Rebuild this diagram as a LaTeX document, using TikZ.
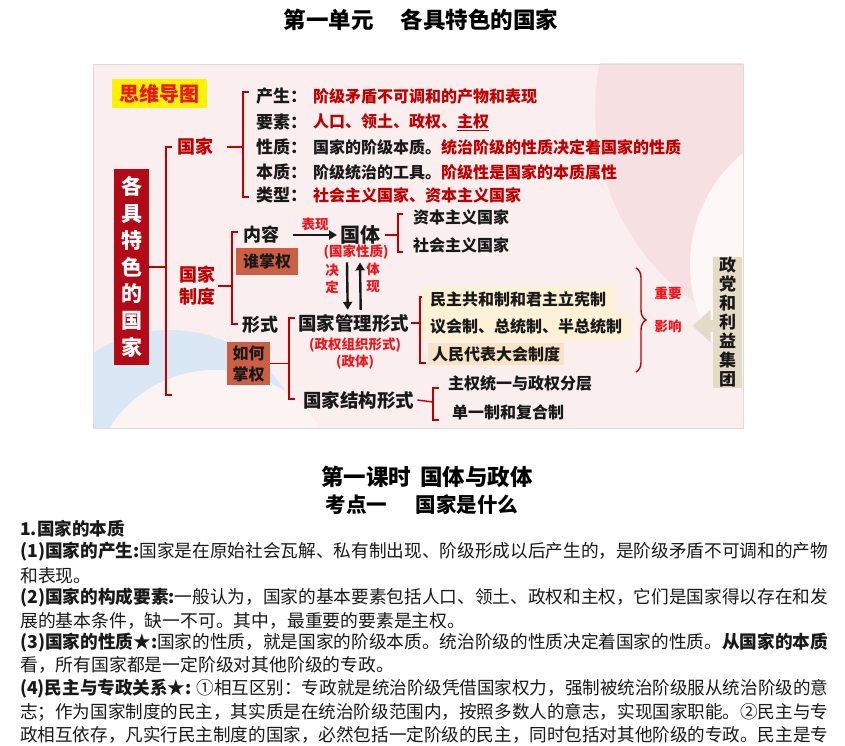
\documentclass[tikz,border=0pt]{standalone}
\usepackage{fontspec}
\usepackage{graphicx}
\setmainfont{Noto Sans CJK SC}
\usetikzlibrary{arrows.meta,positioning,calc,decorations.pathreplacing}
\definecolor{mmred}{RGB}{192,0,0}
\definecolor{hotred}{RGB}{236,22,30}
\definecolor{boxred}{RGB}{178,10,22}
\definecolor{rust}{RGB}{204,94,68}
\definecolor{cream}{RGB}{253,242,214}
\definecolor{creamdk}{RGB}{247,228,196}
\definecolor{sand}{RGB}{228,219,198}
\definecolor{mmbg}{RGB}{251,238,238}
\definecolor{mmpink}{RGB}{247,224,225}
\definecolor{mmblue}{RGB}{218,232,245}
\definecolor{ink}{RGB}{25,25,25}
\tikzset{
	mmlab/.style={text=ink,font=\bfseries\fontsize{17}{20}\selectfont,inner sep=0pt,anchor=west},
	mmtxt/.style={text=ink,font=\bfseries\fontsize{16}{19}\selectfont,inner sep=0pt,anchor=west},
	mmhead/.style={text=ink,font=\bfseries\fontsize{18.5}{22}\selectfont,inner sep=0pt,anchor=west},
	hotlab/.style={text=hotred,font=\bfseries\fontsize{13.5}{17}\selectfont,inner sep=0pt,align=center},
	brk/.style={draw=mmred,line width=1.4pt},
	blackarrow/.style={-{Triangle[length=8pt,width=9pt]},draw=ink,line width=2.4pt},
	rustbox/.style={fill=rust,text=ink,inner sep=0pt,font=\bfseries\fontsize{16}{21}\selectfont,align=center},
	hilite/.style={mmtxt,inner xsep=8pt,minimum height=25pt},
	bodyline/.style={text=ink,font=\fontsize{17.8}{20}\selectfont,inner sep=0pt,anchor=west}
}
\newcommand{\fitline}[1]{\resizebox{808pt}{\height}{#1}}

\begin{document}
\begin{tikzpicture}[x=1pt,y=-1pt]
	\useasboundingbox (0,0) rectangle (845,746);
	\fill[white] (0,0) rectangle (845,746);
	% titles
	\node[font=\bfseries\fontsize{22.5}{26}\selectfont] (unit) at (421,20) {第一单元\hspace{1.2em}各具特色的国家};
	% mind map background
	\fill[mmbg] (93,64) rectangle (743,428);
	\begin{scope}
		\clip (93,64) rectangle (743,428);
		\fill[mmpink] (830,110) circle (235);
		\fill[mmbg!50!white] (835,265) circle (145);
		\fill[mmblue] (170,470) circle (140);
		\fill[mmbg!70!white] (215,495) circle (125);
	\end{scope}
	\draw[black!14,line width=0.8pt] (93,64) rectangle (743,428);
	% map heading and topic
	\node[fill=yellow,text=hotred,inner sep=0pt,minimum width=95pt,minimum height=29pt,
		font=\bfseries\fontsize{20}{22}\selectfont] (siwei) at (159.5,93.5) {思维导图};
	\node[fill=boxred,text=white,inner sep=0pt,minimum width=35pt,minimum height=196pt,align=center,
		font=\bfseries\fontsize{21}{26.7}\selectfont] (topic) at (131.5,267) {各\\具\\特\\色\\的\\国\\家};
	\coordinate (mainbar) at (166,147);
	\draw[brk] (172,147) -- (166,147) -- (166,395) -- (172,395);
	\draw[brk] (topic.east) -- (topic.east -| mainbar);
	% branch: state
	\node[text=mmred,font=\bfseries\fontsize{18}{22}\selectfont,inner sep=0pt,anchor=west] (guojia) at (177,147) {国家};
	\draw[brk] (guojia.east) ++(14,0) -- (243,147);
	\draw[brk] (249,92) -- (243,92) -- (243,197) -- (249,197);
	\node[mmlab] (chansheng) at (256,96) {产生：};
	\node[mmtxt,text=mmred] (chansheng-t) at (313,96) {阶级矛盾不可调和的产物和表现};
	\node[mmlab] (yaosu) at (256,122) {要素：};
	\node[mmtxt,text=mmred] (yaosu-t) at (313,122) {人口、领土、政权、\underline{主权}};
	\node[mmlab] (xingzhi) at (256,147) {性质：};
	\node[mmtxt] (xingzhi-t) at (313,147) {国家的阶级本质。\textcolor{mmred}{统治阶级的性质决定着国家的性质}};
	\node[mmlab] (benzhi) at (256,172) {本质：};
	\node[mmtxt] (benzhi-t) at (313,172) {阶级统治的工具。\textcolor{mmred}{阶级性是国家的本质属性}};
	\node[mmlab] (leixing) at (256,195) {类型：};
	\node[mmtxt,text=mmred] (leixing-t) at (313,195) {社会主义国家、资本主义国家};
	% branch: state system
	\node[text=mmred,font=\bfseries\fontsize{18}{22}\selectfont,inner sep=0pt,align=center] (zhidu) at (197,286) {国家\\制度};
	\draw[brk] ([xshift=3pt]zhidu.east) -- (232,286);
	\draw[brk] (238,232) -- (232,232) -- (232,324) -- (238,324);
	\node[mmhead,font=\bfseries\fontsize{18}{22}\selectfont] (neirong) at (243,235) {内容};
	\node[rustbox,minimum width=62pt,minimum height=27pt] (shei) at (267,261.5) {谁掌权};
	\node[mmhead,font=\bfseries\fontsize{20}{24}\selectfont] (guoti) at (340,235) {国体};
	\draw[blackarrow] ([xshift=14pt]neirong.east) -- node[above=3pt,hotlab] (biaoxian) {表现} ([xshift=-3pt]guoti.west);
	\node[hotlab] (xingzhi-n) at (356,252) {(国家性质)};
	\draw[brk] ([xshift=5pt]guoti.east) -- (398,235);
	\draw[brk] (403,214) -- (398,214) -- (398,252) -- (403,252);
	\node[mmtxt] (ziben) at (413,217) {资本主义国家};
	\node[mmtxt] (shehui) at (413,245) {社会主义国家};
	\node[mmhead,font=\bfseries\fontsize{18}{22}\selectfont] (xingshi) at (242,325) {形式};
	\node[rustbox,minimum width=43pt,minimum height=43pt] (ruhe) at (248.5,363.5) {如何\\掌权};
	\draw[brk] (ruhe.east) -- (289,363.5);
	\draw[brk] (295,318) -- (289,318) -- (289,399) -- (295,399);
	\node[mmhead] (guanli) at (298,323) {国家管理形式};
	\node[hotlab] (zuzhi) at (355,345) {(政权组织形式)};
	\node[hotlab] (zhengti) at (355,362) {(政体)};
	\draw[blackarrow] ([xshift=-9pt,yshift=-3pt]xingzhi-n.south) -- ([xshift=-6pt,yshift=4pt]guanli.north);
	\draw[blackarrow] ([xshift=7pt,yshift=4pt]guanli.north) -- ([xshift=4pt,yshift=-3pt]xingzhi-n.south);
	\node[hotlab] (jueding) at (332,279) {决\\定};
	\node[hotlab] (tixian) at (373,278) {体\\现};
	\draw[brk] ([xshift=2pt]guanli.east) -- (420,323);
	\draw[brk] (426,297) -- (420,297) -- (420,363) -- (426,363);
	\node[hilite,fill=cream,minimum height=26pt] (gonghe) at (422,299.5) {民主共和制和君主立宪制};
	\node[hilite,fill=cream,minimum height=27pt] (yihui) at (422,326.5) {议会制、总统制、半总统制};
	\node[hilite,fill=creamdk,minimum height=22pt,inner xsep=4pt] (renda) at (428,354) {人民代表大会制度};
	\node[mmhead] (jiegou) at (303,400) {国家结构形式};
	\draw[brk] ([xshift=3pt]jiegou.east) -- (433,402);
	\draw[brk] (439,388) -- (433,388) -- (433,420) -- (439,420);
	\node[mmtxt] (fenceng) at (448,383) {主权统一与政权分层};
	\node[mmtxt] (fuhe) at (452,412) {单一制和复合制};
	% influence of parties
	\draw[brk,decorate,decoration={brace,amplitude=10pt}] (636,268) -- (636,372);
	\node[hotlab] (zhongyao) at (668,293) {重要};
	\node[hotlab] (yingxiang) at (668,326) {影响};
	\node[fill=sand,text=ink,inner sep=0pt,minimum width=29pt,minimum height=129pt,align=center,
		font=\bfseries\fontsize{17}{19}\selectfont] (zhengdang) at (727.5,322.5) {政\\党\\和\\利\\益\\集\\团};
	\draw[-{Triangle[length=18pt,width=32pt]},draw=sand,line width=12pt,shorten >=11pt] (zhengdang.west |- yingxiang) -- (yingxiang.east);
	% lesson text
	\node[font=\bfseries\fontsize{22.5}{26}\selectfont] (lesson) at (427,477) {第一课时\hspace{0.4em}国体与政体};
	\node[font=\bfseries\fontsize{20.5}{24}\selectfont] (kaodian) at (422,505) {考点一\hspace{1.4em}国家是什么};
	\node[bodyline,font=\bfseries\fontsize{17.5}{20}\selectfont] (sec1) at (20,529) {1.国家的本质};
	\node[bodyline] (p1a) at (20,552) {\fitline{\textbf{(1)国家的产生:}国家是在原始社会瓦解、私有制出现、阶级形成以后产生的，是阶级矛盾不可调和的产物}};
	\node[bodyline] (p1b) at (20,576) {和表现。};
	\node[bodyline] (p2a) at (20,598) {\fitline{\textbf{(2)国家的构成要素:}一般认为，国家的基本要素包括人口、领土、政权和主权，它们是国家得以存在和发}};
	\node[bodyline] (p2b) at (20,621) {展的基本条件，缺一不可。其中，最重要的要素是主权。};
	\node[bodyline] (p3a) at (20,643) {\fitline{\textbf{(3)国家的性质★:}国家的性质，就是国家的阶级本质。统治阶级的性质决定着国家的性质。\textbf{从国家的本质}}};
	\node[bodyline] (p3b) at (20,665) {看，所有国家都是一定阶级对其他阶级的专政。};
	\node[bodyline] (p4a) at (20,689) {\fitline{\textbf{(4)民主与专政关系★:} ①相互区别：专政就是统治阶级凭借国家权力，强制被统治阶级服从统治阶级的意}};
	\node[bodyline] (p4b) at (20,712) {\fitline{志；作为国家制度的民主，其实质是在统治阶级范围内，按照多数人的意志，实现国家职能。②民主与专}};
	\node[bodyline] (p4c) at (20,735) {\fitline{政相互依存，凡实行民主制度的国家，必然包括一定阶级的民主，同时包括对其他阶级的专政。民主是专}};
\end{tikzpicture}
\end{document}
